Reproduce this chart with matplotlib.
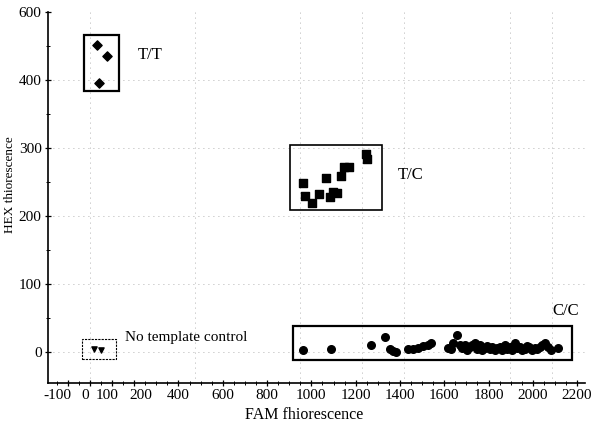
import matplotlib
matplotlib.use("Agg")
import matplotlib.pyplot as plt
import matplotlib.transforms as mtransforms
from matplotlib.patches import Rectangle
from matplotlib.ticker import MultipleLocator

plt.rcParams['font.family'] = ['Liberation Serif', 'DejaVu Serif']

# genotype clusters (FAM, HEX)
tt_fam = [30, 75, 40]
tt_hex = [451, 435, 396]

tc_fam = [962, 970, 1003, 1035, 1068, 1083, 1098, 1116, 1136, 1146, 1170, 1245, 1251]
tc_hex = [249, 229, 220, 233, 256, 228, 236, 234, 259, 272, 272, 291, 284]

cc_fam = [962, 1090, 1271, 1331, 1354, 1369, 1384, 1437, 1459, 1482, 1504, 1527, 1541,
          1617, 1630, 1640, 1658, 1670, 1681, 1692, 1703, 1715, 1726, 1737, 1748, 1760,
          1771, 1782, 1794, 1805, 1816, 1828, 1839, 1850, 1862, 1873, 1884, 1895, 1906,
          1918, 1929, 1940, 1951, 1963, 1974, 1985, 1996, 2008, 2020, 2031, 2042, 2053,
          2068, 2083, 2113]
cc_hex = [3, 5, 10, 22, 5, 2, 0, 5, 5, 7, 9, 11, 13,
          7, 5, 13, 25, 10, 6, 11, 4, 8, 10, 13, 5, 10,
          3, 7, 9, 5, 8, 3, 6, 8, 4, 10, 5, 8, 3,
          13, 6, 8, 4, 5, 9, 8, 3, 7, 5, 8, 10, 13,
          8, 3, 7]

ntc_fam = [18, 50]
ntc_hex = [5, 4]

# boxes round the clusters: (x0, x1, y0, y1)
box_tt = (-27, 131, 384, 466)
box_tc = (903, 1318, 209, 305)
box_cc = (916, 2175, -12, 38)
box_ntc = (-36, 117, -10, 19)

x_ticks = [-100, 0, 100, 200, 400, 600, 800, 1000, 1200, 1400, 1600, 1800, 2000, 2200]
y_ticks = [0, 100, 200, 300, 400, 500]
y_labels = ['0', '100', '200', '300', '400', '600']
# the printed x labels sit a little off their ticks (pixels)
x_label_shift = [-10, -5, -5, 7, 0, 0, 0, 0, 0, 0, 0, 0, 0, 0]

fig = plt.figure(figsize=(5.98, 4.25), dpi=100)
ax = fig.add_axes([0.080, 0.099, 0.898, 0.873])

ax.set_xlim(-190, 2235)
ax.set_ylim(-45, 500)

#Drawing the sparse dotted grid
for xv in [0, 475, 950, 1230, 1420, 1895, 2085]:
    ax.axvline(xv, color='#999999', lw=0.6, ls=(0, (1, 5)), zorder=0)
for yv in [0, 100, 200, 300, 400]:
    ax.axhline(yv, color='#999999', lw=0.6, ls=(0, (1, 5)), zorder=0)

ax.scatter(tt_fam, tt_hex, marker='D', s=22, color='black', zorder=3)
ax.scatter(tc_fam, tc_hex, marker='s', s=30, color='black', zorder=3)
ax.scatter(cc_fam, cc_hex, marker='o', s=30, color='black', zorder=3)
ax.scatter(ntc_fam, ntc_hex, marker='v', s=14, color='black', zorder=3)

for (x0, x1, y0, y1), lw, ls in [(box_tt, 1.6, '-'), (box_tc, 1.2, '-'),
                                 (box_cc, 1.6, '-'), (box_ntc, 0.8, (0, (2, 1)))]:
    ax.add_patch(Rectangle((x0, y0), x1 - x0, y1 - y0, fill=False,
                           edgecolor='black', lw=lw, ls=ls, zorder=2))

ax.text(217, 436, 'T/T', fontsize=12, va='center', ha='left')
ax.text(1390, 261, 'T/C', fontsize=12, va='center', ha='left')
ax.text(2090, 60, 'C/C', fontsize=12, va='center', ha='left')
ax.text(158, 22, 'No template control', fontsize=11, va='center', ha='left')

ax.set_xticks(x_ticks)
ax.set_xticklabels([str(v) for v in x_ticks], fontsize=11)
ax.set_yticks(y_ticks)
ax.set_yticklabels(y_labels, fontsize=11)
ax.xaxis.set_minor_locator(MultipleLocator(50))
ax.yaxis.set_minor_locator(MultipleLocator(50))
ax.tick_params(direction='inout', length=5, width=0.9, pad=2)
ax.tick_params(which='minor', direction='inout', length=3, width=0.7)

for lab, dx in zip(ax.get_xticklabels(), x_label_shift):
    lab.set_transform(lab.get_transform() +
                      mtransforms.ScaledTranslation(dx / 100, 0, fig.dpi_scale_trans))

ax.spines['top'].set_visible(False)
ax.spines['right'].set_visible(False)
ax.spines['left'].set_linewidth(1.2)
ax.spines['bottom'].set_linewidth(1.2)

ax.set_xlabel('FAM fhiorescence', fontsize=11.5)
ax.set_ylabel('HEX thiorescence', fontsize=9.5)
ax.xaxis.set_label_coords(0.477, -0.064)
ax.yaxis.set_label_coords(-0.060, 0.535)

fig.savefig('out.png', dpi=100)
